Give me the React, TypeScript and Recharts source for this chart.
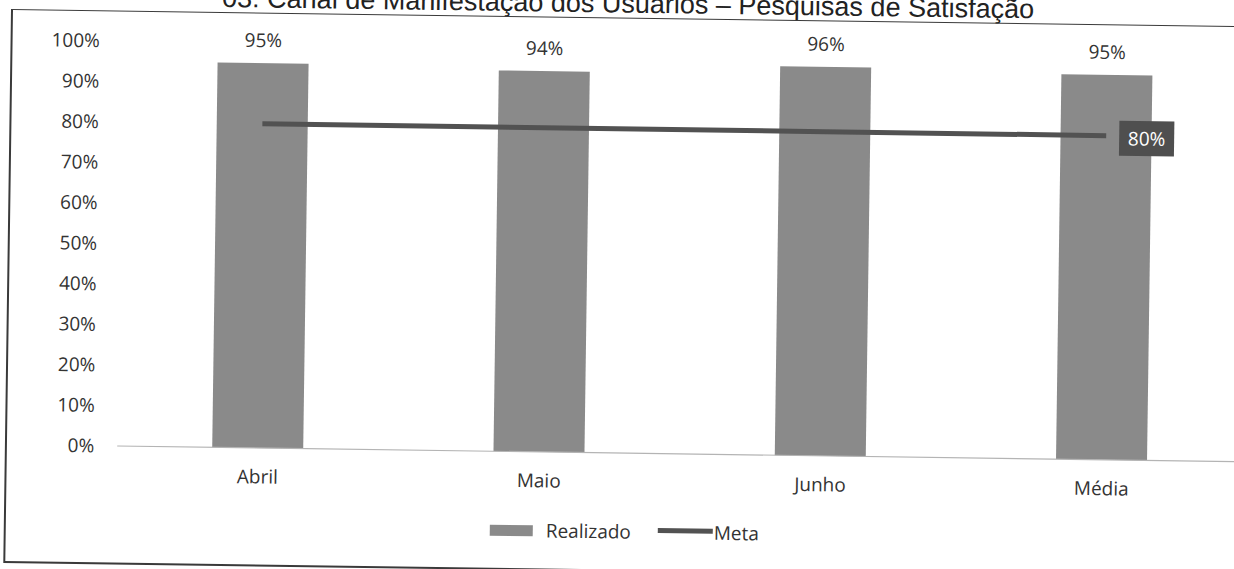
import React from 'react';
import { ComposedChart, Bar, Line, XAxis, YAxis, Legend, LabelList } from 'recharts';

const categories = ['Abril', 'Maio', 'Junho', 'Média'];
const realizado = [95, 94, 96, 95];
const meta = [80, 80, 80, 80];
const yTicks = [0, 10, 20, 30, 40, 50, 60, 70, 80, 90, 100];
const titleText = '03: Canal de Manifestação dos Usuários – Pesquisas de Satisfação';
const seriesNames = { realizado: 'Realizado', meta: 'Meta' };

const data = categories.map((c, i) => ({ name: c, realizado: realizado[i], meta: meta[i] }));

const FONT = '"Open Sans", "DejaVu Sans", sans-serif';
const TEXT = '#333333';
const BAR = '#8a8a8a';
const LINE = '#525252';

const MetaLabel = (props: any) => {
  const { x, y, index, value } = props;
  if (index !== meta.length - 1) return null;
  return (
    <g>
      <rect x={x + 13} y={y - 15} width={55} height={35} fill="#4f4f4f" />
      <text x={x + 40.5} y={y + 2.5} textAnchor="middle" dominantBaseline="central" fill="#ffffff" fontSize={19} fontFamily={FONT}>
        {`${value}%`}
      </text>
    </g>
  );
};

const renderLegend = () => (
  <div style={{ position: 'relative', width: 0, height: 0, fontFamily: FONT, fontSize: 19, color: TEXT }}>
    <div style={{ position: 'absolute', left: 497, top: 548, width: 43, height: 11, background: BAR }} />
    <div style={{ position: 'absolute', left: 553, top: 540, lineHeight: '26px', whiteSpace: 'nowrap' }}>{seriesNames.realizado}</div>
    <div style={{ position: 'absolute', left: 665, top: 549, width: 55, height: 5, background: LINE }} />
    <div style={{ position: 'absolute', left: 721, top: 540, lineHeight: '26px', whiteSpace: 'nowrap' }}>{seriesNames.meta}</div>
  </div>
);

export default function App() {
  return (
    <div style={{ position: 'absolute', left: 0, top: 0, width: 1234, height: 569, overflow: 'hidden', background: '#fff' }}>
      <div
        style={{
          position: 'absolute',
          left: 0,
          top: -30,
          width: 1280,
          height: 620,
          transform: 'rotate(0.8deg)',
          transformOrigin: '12px 40px',
        }}
      >
        <svg width={1280} height={60} style={{ position: 'absolute', left: 0, top: 0 }}>
          <text x={222} y={34} fontFamily='"Liberation Sans", Arial, sans-serif' fontSize={27} fill="#222">
            {titleText}
          </text>
        </svg>
        <div
          style={{
            position: 'absolute',
            left: 11,
            top: 39,
            width: 1262,
            height: 551,
            borderLeft: '2px solid #3a3a3a',
            borderTop: '1.5px solid #3a3a3a',
            borderBottom: '2px solid #3a3a3a',
            borderRight: '2px solid #3a3a3a',
          }}
        />
        <div style={{ position: 'absolute', left: 0, top: 0 }}>
          <ComposedChart
            width={1280}
            height={620}
            data={data}
            margin={{ top: 69.3, right: 31.5, bottom: 105.5, left: 0 }}
            style={{ fontFamily: FONT }}
          >
            <XAxis
              dataKey="name"
              height={40}
              tickLine={false}
              tickSize={0}
              tickMargin={22}
              axisLine={{ stroke: '#b4b4b4', strokeWidth: 1.2 }}
              tick={{ fill: TEXT, fontSize: 19, fontFamily: FONT }}
              interval={0}
            />
            <YAxis
              width={123.3}
              domain={[0, 100]}
              ticks={yTicks}
              tickFormatter={(v: number) => `${v}%`}
              axisLine={false}
              tickLine={false}
              tickSize={0}
              tickMargin={23}
              tick={{ fill: TEXT, fontSize: 19, fontFamily: FONT }}
              interval={0}
            />
            <Legend
              layout="horizontal"
              verticalAlign="middle"
              align="center"
              wrapperStyle={{ position: 'absolute', left: 0, top: 0, width: 0, height: 0 }}
              content={renderLegend}
            />
            <Bar dataKey="realizado" name={seriesNames.realizado} fill={BAR} barSize={91} isAnimationActive={false}>
              <LabelList
                dataKey="realizado"
                position="top"
                offset={16}
                formatter={(v: any) => `${v}%`}
                style={{ fill: TEXT, fontSize: 19, fontFamily: FONT }}
              />
            </Bar>
            <Line
              dataKey="meta"
              name={seriesNames.meta}
              stroke={LINE}
              strokeWidth={5}
              dot={false}
              activeDot={false}
              isAnimationActive={false}
              label={<MetaLabel />}
            />
          </ComposedChart>
        </div>
      </div>
    </div>
  );
}
